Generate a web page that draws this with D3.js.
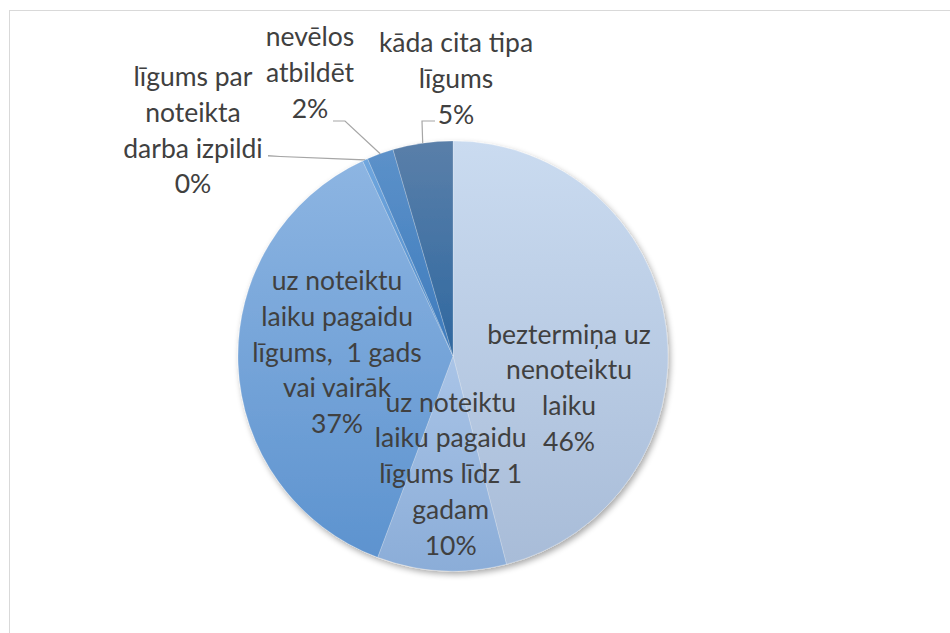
<!DOCTYPE html>
<html>
<head>
<meta charset="utf-8">
<script src="https://d3js.org/d3.v7.min.js"></script>
<style>
  body { margin: 0; background: #fff; }
  .lbl { font-family: Lato, "Open Sans", sans-serif; font-size: 26.5px; fill: #404040; white-space: pre; }
</style>
</head>
<body>
<svg id="chart" width="950" height="633"></svg>
<script>
// data (clockwise from 12 o'clock)
var categories = [
  "beztermiņa uz nenoteiktu laiku",
  "uz noteiktu laiku pagaidu līgums līdz 1 gadam",
  "uz noteiktu laiku pagaidu līgums,  1 gads vai vairāk",
  "līgums par noteikta darba izpildi",
  "nevēlos atbildēt",
  "kāda cita tipa līgums"
];
var shares = [46.0, 9.7, 37.4, 0.4, 2.0, 4.5];
var pctLabels = ["46%", "10%", "37%", "0%", "2%", "5%"];

// how Excel wrapped each label
var labelLines = [
  ["beztermiņa uz", "nenoteiktu", "laiku"],
  ["uz noteiktu", "laiku pagaidu", "līgums līdz 1", "gadam"],
  ["uz noteiktu", "laiku pagaidu", "līgums,  1 gads", "vai vairāk"],
  ["līgums par", "noteikta", "darba izpildi"],
  ["nevēlos", "atbildēt"],
  ["kāda cita tipa", "līgums"]
];

var gradTop = ["#cadbf0", "#a9c4e7", "#8db5e2", "#6fa6de", "#5c91c9", "#5a7fa9"];
var gradBot = ["#a8bcd8", "#8badd8", "#5d93cf", "#4f8ac8", "#3d7bbd", "#2f68a0"];

var cx = 453, cy = 356, radius = 215, lineH = 35.7;

var svg = d3.select("#chart");
var defs = svg.append("defs");

// chart frame
svg.append("rect")
  .attr("x", 9.5).attr("y", 10.5)
  .attr("width", 960).attr("height", 640)
  .attr("fill", "#fff").attr("stroke", "#d9d9d9");

var shadow = defs.append("filter").attr("id", "shadow")
  .attr("x", "-10%").attr("y", "-10%").attr("width", "130%").attr("height", "130%");
shadow.append("feGaussianBlur").attr("in", "SourceAlpha").attr("stdDeviation", 3);
shadow.append("feOffset").attr("dx", 2).attr("dy", 3).attr("result", "off");
shadow.append("feComponentTransfer").append("feFuncA").attr("type", "linear").attr("slope", 0.35);
var merge = shadow.append("feMerge");
merge.append("feMergeNode");
merge.append("feMergeNode").attr("in", "SourceGraphic");

// one vertical gradient per slice, over the slice's own box
shares.forEach(function(d, i) {
  var g = defs.append("linearGradient").attr("id", "g" + i)
    .attr("x1", 0).attr("x2", 0).attr("y1", 0).attr("y2", 1);
  g.append("stop").attr("offset", "0%").attr("stop-color", gradTop[i]);
  g.append("stop").attr("offset", "100%").attr("stop-color", gradBot[i]);
});

var pie = d3.pie().sort(null).value(function(d) { return d; });
var arcs = pie(shares);
var arc = d3.arc().innerRadius(0).outerRadius(radius);

var g = svg.append("g").attr("transform", "translate(" + cx + "," + cy + ")");

g.append("g").attr("filter", "url(#shadow)")
  .selectAll("path")
  .data(arcs)
  .enter().append("path")
  .attr("d", arc)
  .attr("fill", function(d, i) { return "url(#g" + i + ")"; })
  .attr("stroke", "#ffffff")
  .attr("stroke-opacity", 0.35)
  .attr("stroke-width", 0.6);

// label placement: inside labels sit on a ring, outside ones get leaders
var inside = { 0: { r: 120, dx: -3, dy: 47 }, 1: { r: 118, dx: 4, dy: 0 }, 2: { r: 116, dx: 0, dy: -8 } };
var outside = {
  3: { x: -260, y: -279, leader: [[-185, -200], [-90, -196]] },
  4: { x: -143, y: -319, leader: [[-108, -235], [-120, -235]] },
  5: { x: 3, y: -313, leader: [[-31, -235], [-18, -235]] }
};

function midPoint(d, r) {
  var a = (d.startAngle + d.endAngle) / 2;
  return [Math.sin(a) * r, -Math.cos(a) * r];
}

arcs.forEach(function(d, i) {
  var lines = labelLines[i].concat([pctLabels[i]]);
  var x, y;
  if (inside[i]) {
    var p = midPoint(d, inside[i].r);
    x = p[0] + inside[i].dx;
    y = p[1] + inside[i].dy - (lines.length - 1) * lineH / 2;
  } else {
    x = outside[i].x; y = outside[i].y;
    var start = midPoint(d, radius);
    var pts = [start].concat(outside[i].leader);
    g.append("path")
      .attr("d", d3.line()(pts))
      .attr("fill", "none")
      .attr("stroke", "#a6a6a6")
      .attr("stroke-width", 1.2);
  }
  var t = g.append("text").attr("class", "lbl").attr("text-anchor", "middle");
  lines.forEach(function(s, k) {
    t.append("tspan").attr("x", x).attr("y", y + k * lineH)
      .attr("dy", "0.35em").text(s);
  });
});
</script>
</body>
</html>
